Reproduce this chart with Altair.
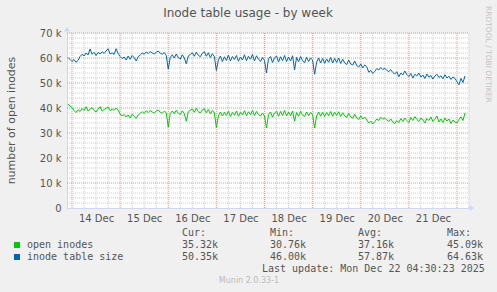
import altair as alt
import pandas as pd

# ---------------- data (k inodes, hourly, from Dec 13 22:00) ----------------
start_time = "2025-12-13T22:00:00"
blue_k = [
    60.2, 59.4,
    58.6, 59.4, 58.3, 59.0, 60.6, 61.5, 60.8, 62.0, 61.2, 63.6, 61.5, 62.3, 61.0, 62.2, 61.6, 62.5, 61.8, 62.8, 63.7, 61.6, 62.0, 61.5, 63.7, 61.8,
    60.6, 59.8, 60.4, 59.2, 60.8, 59.5, 61.0, 60.2, 58.8, 60.5, 61.2, 62.0, 61.5, 62.4, 61.8, 62.6, 62.0, 61.6, 62.3, 62.8, 61.9, 61.5, 62.2, 61.0,
    55.6, 60.2, 61.3, 60.0, 61.6, 60.2, 59.6, 61.3, 60.0, 57.7, 60.8, 61.4, 62.1, 60.7, 62.3, 61.1, 60.5, 61.9, 62.5, 60.7, 62.1, 60.2, 61.7, 60.5,
    55.0, 59.2, 60.8, 58.6, 60.5, 59.0, 61.2, 58.8, 60.6, 59.4, 61.0, 58.7, 60.4, 59.2, 61.3, 58.9, 60.7, 59.5, 61.4, 58.8, 60.9, 59.6, 58.6, 60.2,
    59.0, 54.0, 59.8, 60.6, 58.2, 60.1, 60.8, 58.4, 60.5, 58.9, 61.0, 58.6, 60.4, 58.8, 60.9, 55.3, 60.2, 58.5, 60.6, 58.9, 58.1, 60.3, 58.6, 60.0,
    59.2, 53.5, 58.3, 60.0, 58.0, 59.8, 57.9, 59.6, 58.3, 60.2, 58.0, 59.8, 58.2, 60.0, 57.8, 59.5, 58.0, 57.4, 59.2, 57.6, 57.2, 58.8, 57.0, 56.4,
    57.6, 56.0, 57.2, 56.5, 54.3, 55.0, 53.8, 54.6, 55.8, 55.2, 56.2, 55.4, 55.9, 55.0, 54.6, 55.3, 54.2, 53.6, 54.5, 52.5, 54.0, 53.2, 54.8, 53.4,
    52.6, 53.8, 52.0, 53.5, 52.8, 54.0, 52.4, 53.2, 51.8, 53.6, 52.3, 53.0, 51.6, 52.8, 53.5, 52.2, 52.9, 51.7, 53.3, 52.0, 52.7, 51.4, 52.4, 51.8,
    50.5, 49.3, 51.8, 50.2, 52.8,
]
green_k = [
    41.5, 40.8,
    40.2, 39.0, 38.2, 39.3, 38.6, 39.8, 39.0, 40.5, 38.8, 39.5, 40.2, 39.0, 38.4, 39.6, 40.6, 38.7, 39.4, 39.9, 40.4, 38.9, 39.6, 39.1, 40.0, 39.2,
    37.6, 36.8, 37.4, 36.4, 37.2, 36.0, 37.5, 36.6, 35.8, 37.2, 37.9, 38.5, 37.8, 38.9, 38.2, 39.0, 38.4, 38.0, 38.8, 39.2, 38.3, 37.9, 38.7, 38.1,
    32.4, 37.8, 38.8, 37.7, 39.1, 37.9, 37.4, 38.9, 37.8, 34.7, 38.5, 39.1, 39.6, 38.3, 39.9, 38.5, 38.0, 39.2, 39.7, 38.1, 39.4, 37.7, 39.0, 38.0,
    32.2, 36.8, 38.4, 36.8, 38.3, 37.0, 38.7, 36.6, 38.2, 37.1, 38.8, 36.7, 38.3, 37.2, 38.9, 36.9, 38.5, 37.3, 39.0, 37.0, 38.6, 37.4, 36.8, 38.0,
    36.8, 32.0, 37.4, 38.4, 36.3, 38.0, 38.7, 36.7, 38.6, 37.0, 39.0, 36.8, 38.4, 36.9, 38.8, 34.7, 38.2, 36.7, 38.7, 37.1, 36.6, 38.4, 36.9, 38.2,
    37.3, 32.0, 36.8, 38.4, 36.7, 38.3, 36.6, 38.2, 36.9, 38.6, 36.7, 38.3, 37.0, 38.5, 36.6, 38.1, 36.8, 36.2, 37.9, 36.4, 35.9, 37.5, 36.0, 35.4,
    36.9, 35.6, 36.4, 35.2, 34.0, 34.8, 33.6, 34.5, 35.6, 35.0, 36.3, 35.5, 36.0, 35.2, 34.6, 35.6, 34.3, 33.8, 35.0, 34.2, 35.8, 34.6, 36.0, 35.0,
    34.2, 36.2, 35.0, 36.6, 35.4, 34.6, 36.0, 35.2, 34.0, 35.8, 35.0, 36.4, 34.6, 35.5, 36.8, 34.4, 35.6, 34.2, 36.0, 34.8, 35.6, 33.8, 35.2, 34.4,
    34.0, 35.5, 36.5, 35.0, 38.0,
]
series_names = ["open inodes", "inode table size"]
series_colors = ["#00CC00", "#0066B3"]
stat_cur = ["35.32k", "50.35k"]
stat_min = ["30.76k", "46.00k"]
stat_avg = ["37.16k", "57.87k"]
stat_max = ["45.09k", "64.63k"]
day_labels = ["2025-12-%02dT12:00:00" % d for d in range(14, 22)]
y_ticks = [0, 10000, 20000, 30000, 40000, 50000, 60000, 70000]

# ---------------- tables ----------------
times = pd.date_range(start_time, periods=len(blue_k), freq="h")
tstr = [t.strftime("%Y-%m-%dT%H:%M:%S") for t in times]
df = pd.concat([
    pd.DataFrame({"t": tstr, "v": [v * 1000 for v in green_k], "s": series_names[0]}),
    pd.DataFrame({"t": tstr, "v": [v * 1000 for v in blue_k], "s": series_names[1]}),
])

x0, x1 = "2025-12-13T21:30:00", "2025-12-22T05:30:00"
grid6 = pd.date_range("2025-12-14T00:00:00", "2025-12-22T06:00:00", freq="6h")
vminor = pd.DataFrame({"t": [g.strftime("%Y-%m-%dT%H:%M:%S") for g in grid6 if g.hour != 0]})
vmajor = pd.DataFrame({"t": [g.strftime("%Y-%m-%dT%H:%M:%S") for g in grid6 if g.hour == 0]})
hminor = pd.DataFrame({"v": [v for v in range(2000, 70001, 2000) if v % 10000]})
hmajor = pd.DataFrame({"v": [v for v in range(10000, 70001, 10000)]})

W, H = 401, 175
xscale = alt.Scale(domain=[x0, x1])
yscale = alt.Scale(domain=[0, 70000])
FONT = "DejaVu Sans"
MONO = "DejaVu Sans Mono"
AXISC = "#CFD6F8"
TXT = "#555555"

XAX = alt.Axis(values=day_labels, format="%d %b", grid=False, ticks=False, title=None,
               labelFont=FONT, labelFontSize=10, labelColor=TXT, labelPadding=5,
               domainColor=AXISC, labelOverlap=False, labelFlush=False)
YAX = alt.Axis(values=y_ticks, grid=False, ticks=False,
               labelExpr="datum.value == 0 ? '0' : (datum.value / 1000) + ' k'",
               labelFont=FONT, labelFontSize=10, labelColor=TXT, labelPadding=6,
               domainColor=AXISC, title="number of open inodes",
               titleFont=FONT, titleFontSize=11, titleFontWeight="normal",
               titleColor=TXT, titleX=-56, titleY=87, titleAngle=270,
               titleAlign="center", titleBaseline="middle")


def xenc():
    return alt.X("t:T", scale=xscale, axis=XAX)


def yenc():
    return alt.Y("v:Q", scale=yscale, axis=YAX)


MINC = "#CCCCCC"
MAJC = "#F08C8C"
g_vmin = alt.Chart(vminor).mark_rule(color=MINC, strokeDash=[1, 1], strokeWidth=1).encode(x=xenc())
g_vmaj = alt.Chart(vmajor).mark_rule(color=MAJC, strokeDash=[1, 1], strokeWidth=1).encode(x=xenc())
g_hmin = alt.Chart(hminor).mark_rule(color=MINC, strokeDash=[1, 1], strokeWidth=1).encode(y=yenc())
g_hmaj = alt.Chart(hmajor).mark_rule(color=MAJC, strokeDash=[1, 1], strokeWidth=1).encode(y=yenc())

lines = alt.Chart(df).mark_line(strokeWidth=1, clip=True).encode(
    x=xenc(),
    y=yenc(),
    color=alt.Color("s:N", scale=alt.Scale(domain=series_names, range=series_colors), legend=None),
    detail="s:N",
)

one = alt.Data(values=[{}])


def txt(s, x, y, font=MONO, size=10, color=TXT, align="left", angle=0):
    return alt.Chart(one).mark_text(font=font, fontSize=size, color=color, align=align,
                                    baseline="middle", angle=angle).encode(
        x=alt.value(x), y=alt.value(y), text=alt.value(s))


# axis extensions / arrows
ax_up = alt.Chart(one).mark_rule(color=AXISC, strokeWidth=1).encode(
    x=alt.value(0), y=alt.value(-4), y2=alt.value(0))
ax_right = alt.Chart(one).mark_rule(color=AXISC, strokeWidth=1).encode(
    x=alt.value(W), x2=alt.value(W + 3), y=alt.value(H))
arr_up = alt.Chart(one).mark_point(shape="triangle-up", filled=True, color=AXISC, size=30, opacity=1).encode(
    x=alt.value(0), y=alt.value(-4))
arr_right = alt.Chart(one).mark_point(shape="triangle-right", filled=True, color=AXISC, size=30, opacity=1).encode(
    x=alt.value(W + 4), y=alt.value(H))

OX, OY = 67, 33
layers = [g_vmin, g_hmin, g_vmaj, g_hmaj, lines, ax_up, ax_right, arr_up, arr_right]

layers.append(txt("Inode table usage - by week", 248 - OX, 13 - OY, font=FONT, size=12, align="center"))
layers.append(txt("RRDTOOL / TOBI OETIKER", 488 - OX, 6 - OY, font=FONT, size=7.5, color="#C4C4C4", angle=90))

col_x = [182, 270, 358, 447]
for cx, hdr in zip(col_x, ["Cur:", "Min:", "Avg:", "Max:"]):
    layers.append(txt(hdr, cx - OX, 233 - OY))
row_y = [245, 257]
for i in range(2):
    sq = alt.Chart(one).mark_square(filled=True, color=series_colors[i], size=36, opacity=1).encode(
        x=alt.value(17 - OX), y=alt.value(row_y[i] - OY))
    layers.append(sq)
    layers.append(txt(series_names[i], 27 - OX, row_y[i] - OY))
    for cx, vals in zip(col_x, [stat_cur, stat_min, stat_avg, stat_max]):
        layers.append(txt(vals[i], cx - OX, row_y[i] - OY))
layers.append(txt("Last update:  Mon Dec 22 04:30:23 2025", 262 - OX, 269 - OY))
layers.append(txt("Munin 2.0.33-1", 249 - OX, 281 - OY, font=FONT, size=8, color="#BBBBBB", align="center"))

chart = alt.layer(*layers).properties(
    width=W, height=H,
    autosize=alt.AutoSizeParams(type="none"),
    padding={"left": OX, "top": OY, "right": 497 - OX - W, "bottom": 292 - OY - H},
    background="#F0F0F0",
).configure_view(fill="#FFFFFF", stroke="transparent")

chart.save("out.html", embed_options={"renderer": "svg", "actions": False})
